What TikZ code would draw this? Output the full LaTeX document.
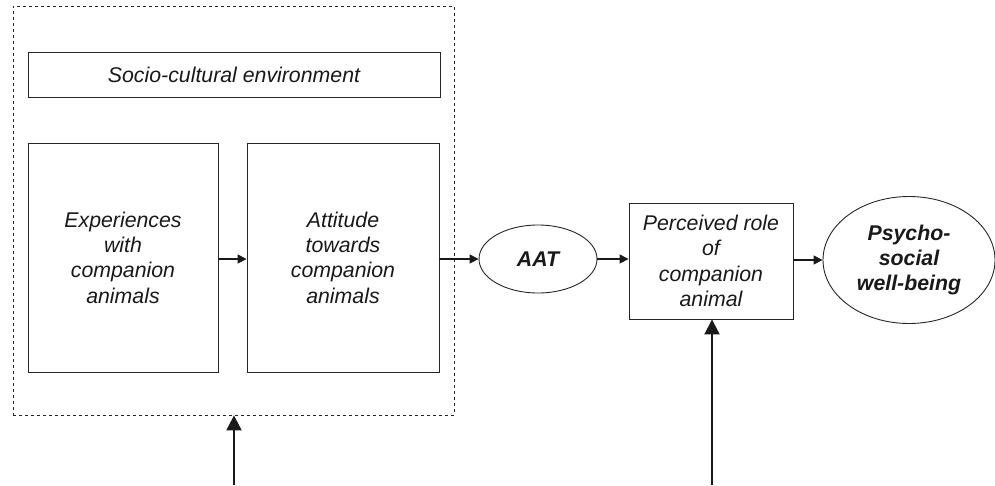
\documentclass[tikz,border=0pt]{standalone}
\usepackage{fontspec}
\setmainfont{Liberation Sans}
\usetikzlibrary{shapes.geometric,arrows.meta}
\tikzset{
  box/.style={draw=black!85, line width=0.9pt, rectangle, inner sep=0pt, align=center,
    font=\fontsize{21.3}{25.3}\selectfont\itshape, text=black!90},
  oval/.style={draw=black!85, line width=0.9pt, ellipse, inner sep=0pt, align=center,
    font=\fontsize{21.3}{25}\selectfont\itshape\bfseries, text=black!90},
  arr/.style={draw=black!90, line width=1.5pt, -{Triangle[length=9pt,width=9pt]}},
  bigarr/.style={draw=black!90, line width=2pt, -{Triangle[length=15pt,width=15pt]}}
}
\begin{document}
\begin{tikzpicture}[x=1pt,y=-1pt]
\useasboundingbox (0,0) rectangle (995,485);
\node[draw=black!85, dashed, line width=0.8pt, rectangle, minimum width=441pt, minimum height=409pt, inner sep=0pt] (env) at (233.5,210.5) {};
\node[box, minimum width=412pt, minimum height=45pt] (soc) at (234,74.5) {Socio-cultural environment};
\node[box, minimum width=190pt, minimum height=229pt] (exp) at (123,257.5) {Experiences\\with\\companion\\animals};
\node[box, minimum width=192pt, minimum height=229pt] (att) at (343,257.5) {Attitude\\towards\\companion\\animals};
\node[oval, minimum width=118pt, minimum height=68pt] (aat) at (538,259) {AAT};
\node[box, minimum width=164pt, minimum height=116pt] (per) at (711,261) {Perceived role\\of\\companion\\animal};
\node[oval, minimum width=172pt, minimum height=127pt] (psy) at (909,260) {Psycho-\\social\\well-being};
\coordinate (b1) at (234,485);
\coordinate (b2) at (712,485);
\draw[arr] (exp.east |- aat.west) -- (att.west |- aat.west);
\draw[arr] (att.east |- aat.west) -- (aat.west);
\draw[arr] (aat.east) -- (per.west |- aat.east);
\draw[arr] (per.east |- psy.west) -- (psy.west);
\draw[bigarr] (b1) -- (b1 |- env.south);
\draw[bigarr] (b2) -- (b2 |- per.south);
\end{tikzpicture}
\end{document}
